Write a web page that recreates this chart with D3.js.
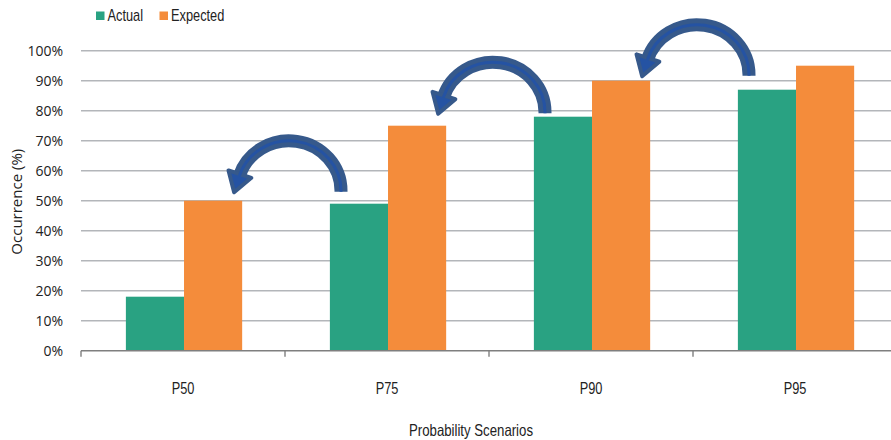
<!DOCTYPE html>
<html>
<head>
<meta charset="utf-8">
<script src="https://cdn.jsdelivr.net/npm/d3@7"></script>
<style>
  body { margin: 0; background: #fff; }
</style>
</head>
<body>
<div id="chart"></div>
<script>
const categories = ["P50", "P75", "P90", "P95"];
const series = ["Actual", "Expected"];
const actual = [18, 49, 78, 87];
const expected = [50, 75, 90, 95];
const yTicks = [0, 10, 20, 30, 40, 50, 60, 70, 80, 90, 100];
// curved arrows: from category i+1 back to category i, resting at this level (%)
const arrowLevels = [53.3, 79.5, 92];

const width = 891, height = 440;
const colors = { Actual: "#29a282", Expected: "#f48c3b" };
const sans = "'Liberation Sans', Arial, sans-serif";
const plain = "'Open Sans', 'Noto Sans', sans-serif";
const squeeze = 0.8; // condensed look for the narrow labels

const rows = categories.map((c, i) => ({ cat: c, Actual: actual[i], Expected: expected[i] }));

const svg = d3.select("#chart").append("svg")
  .attr("width", width)
  .attr("height", height);

const x0 = d3.scaleBand().domain(categories).range([81, 897]);
const bw = x0.bandwidth();
const x1 = d3.scaleBand().domain(series).range([bw * 0.22, bw * 0.79]);
const y = d3.scaleLinear().domain([0, 100]).range([350.7, 50.7]);

function narrowText(sel, size) {
  return sel
    .style("font-family", sans)
    .style("font-size", size + "px")
    .style("fill", "#222");
}

// gridlines
svg.append("g")
  .selectAll("line")
  .data(yTicks.filter(d => d > 0))
  .enter()
  .append("line")
  .attr("x1", 81)
  .attr("x2", width)
  .attr("y1", d => y(d))
  .attr("y2", d => y(d))
  .attr("stroke", "#b3b6ba")
  .attr("stroke-width", 1.4);

// y tick labels
svg.append("g")
  .selectAll("text")
  .data(yTicks)
  .enter()
  .append("text")
  .attr("x", 63)
  .attr("y", d => y(d))
  .attr("dy", "0.35em")
  .attr("text-anchor", "end")
  .style("font-family", plain)
  .style("font-size", "14px")
  .style("fill", "#222")
  .text(d => d + "%");

// bars
svg.append("g")
  .selectAll("g")
  .data(rows)
  .enter()
  .append("g")
  .attr("transform", d => "translate(" + x0(d.cat) + ",0)")
  .selectAll("rect")
  .data(d => series.map(s => ({ key: s, value: d[s] })))
  .enter()
  .append("rect")
  .attr("x", d => x1(d.key))
  .attr("width", x1.bandwidth())
  .attr("y", d => y(d.value))
  .attr("height", d => y(0) - y(d.value))
  .style("fill", d => colors[d.key]);

// x axis
const xAxis = svg.append("g").attr("transform", "translate(0," + y(0) + ")");
xAxis.append("line")
  .attr("x1", 81).attr("x2", width)
  .attr("stroke", "#7f7f7f").attr("stroke-width", 1.4);
xAxis.selectAll(".tick")
  .data(categories.map(c => x0(c)))
  .enter()
  .append("line")
  .attr("x1", d => d).attr("x2", d => d)
  .attr("y1", 0).attr("y2", 6)
  .attr("stroke", "#7f7f7f").attr("stroke-width", 1.4);
xAxis.selectAll("text")
  .data(categories)
  .enter()
  .append("text")
  .attr("transform", d => "translate(" + (x0(d) + bw / 2) + ",43.5) scale(" + squeeze + ",1)")
  .attr("text-anchor", "middle")
  .call(narrowText, 16)
  .text(d => d);

// axis titles
svg.append("text")
  .attr("transform", "translate(471,436) scale(" + squeeze + ",1)")
  .attr("text-anchor", "middle")
  .call(narrowText, 16.5)
  .text("Probability Scenarios");

svg.append("text")
  .attr("transform", "translate(22,201.7) rotate(-90)")
  .attr("text-anchor", "middle")
  .style("font-family", plain)
  .style("font-size", "15px")
  .style("fill", "#222")
  .text("Occurrence (%)");

// legend
const legend = svg.append("g")
  .selectAll("g")
  .data(series)
  .enter()
  .append("g")
  .attr("transform", (d, i) => "translate(" + (96 + i * 63.5) + ",11.5)");
legend.append("rect")
  .attr("width", 8.5)
  .attr("height", 8.5)
  .style("fill", d => colors[d]);
legend.append("text")
  .attr("transform", "translate(11.5,9.8) scale(" + squeeze + ",1)")
  .call(narrowText, 16)
  .text(d => d);

// curved arrows
const rx = 52, ry = 50;
const endT = Math.PI - 0.3;
const arrows = svg.append("g")
  .selectAll("g")
  .data(arrowLevels.map((v, i) => ({ cx: x0(categories[i + 1]) + 4, cy: y(v) })))
  .enter()
  .append("g");

function arcPath(d) {
  const ex = d.cx + rx * Math.cos(endT), ey = d.cy - ry * Math.sin(endT);
  return "M" + (d.cx + rx) + "," + (d.cy + 1) + "L" + (d.cx + rx) + "," + d.cy +
    "A" + rx + "," + ry + " 0 0 0 " + ex + "," + ey;
}
function headPoints(d) {
  const ex = d.cx + rx * Math.cos(endT), ey = d.cy - ry * Math.sin(endT);
  let ux = -rx * Math.sin(endT), uy = -ry * Math.cos(endT);
  const len = Math.hypot(ux, uy);
  ux /= len; uy /= len;
  const nx = uy, ny = -ux;
  const tip = [ex + 17 * ux, ey + 17 * uy];
  const b1 = [ex + 12 * nx - 2 * ux, ey + 12 * ny - 2 * uy];
  const b2 = [ex - 12 * nx - 2 * ux, ey - 12 * ny - 2 * uy];
  return [b1, tip, b2].map(p => p.join(",")).join(" ");
}

arrows.append("path")
  .attr("d", arcPath)
  .attr("fill", "none")
  .attr("stroke", "#36598b")
  .attr("stroke-width", 13);
arrows.append("polygon")
  .attr("points", headPoints)
  .attr("fill", "#2553a3")
  .attr("stroke", "#36598b")
  .attr("stroke-width", 4)
  .attr("stroke-linejoin", "round");
arrows.append("path")
  .attr("d", arcPath)
  .attr("fill", "none")
  .attr("stroke", "#2553a3")
  .attr("stroke-width", 3);
</script>
</body>
</html>
